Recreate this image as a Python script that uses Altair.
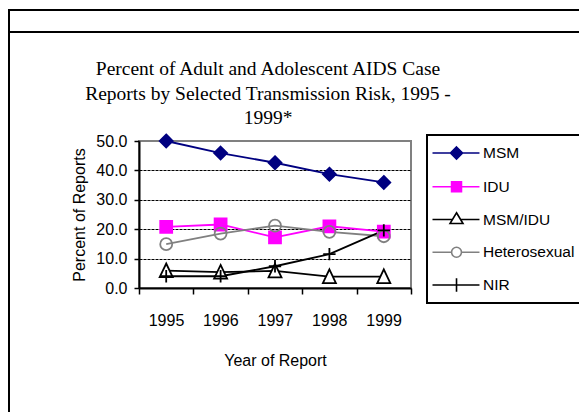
import altair as alt
import pandas as pd

years = [1995, 1996, 1997, 1998, 1999]
series_names = ["MSM", "IDU", "MSM/IDU", "Heterosexual", "NIR"]
msm = [50.0, 45.9, 42.6, 38.7, 35.9]
idu = [20.8, 21.6, 17.2, 21.0, 19.2]
msm_idu = [5.9, 5.4, 5.8, 3.9, 3.9]
hetero = [14.9, 18.5, 21.2, 19.1, 17.6]
nir = [4.0, 4.0, 7.4, 11.5, 19.6]
title_lines = ["Percent of Adult and Adolescent AIDS Case",
               "Reports by Selected Transmission Risk, 1995 -",
               "1999*"]

values = {"MSM": msm, "IDU": idu, "MSM/IDU": msm_idu, "Heterosexual": hetero, "NIR": nir}
rows = []
for s in series_names:
    for y, v in zip(years, values[s]):
        rows.append({"series": s, "year": y, "pct": v})
df = pd.DataFrame(rows)

stroke_colors = ["#000080", "#FF00FF", "#000000", "#808080", "#000000"]
fill_colors = ["#000080", "#FF00FF", "#FFFFFF", "transparent", "#000000"]
marker_paths = [
    "M0,-1L1,0L0,1L-1,0Z",
    "M-0.92,-0.92H0.92V0.92H-0.92Z",
    "M0,-1.1L1,1H-1Z",
    "M0.92,0A0.92,0.92 0 1,1 -0.92,0A0.92,0.92 0 1,1 0.92,0Z",
    "M0,-0.95V0.95M-0.95,0H0.95",
]
# legend symbols (unit = 9px)
legend_paths = [
    "M-1.39,0H3.83M1.28,-0.67L1.95,0L1.28,0.67L0.61,0Z",
    "M-1.39,0H3.83M0.73,-0.55H1.83V0.55H0.73Z",
    "M-1.39,0H0.83M1.73,0H3.83M1.28,-0.75L2.0,0.45H0.56Z",
    "M-1.39,0H0.73M1.83,0H3.83M1.83,0A0.55,0.55 0 1,1 0.73,0A0.55,0.55 0 1,1 1.83,0Z",
    "M-1.39,0H3.83M1.28,-0.75V0.75",
]

SANS = "Liberation Sans, Arial, sans-serif"

x_enc = alt.X(
    "year:Q",
    scale=alt.Scale(domain=[1994.5, 1999.5], nice=False, zero=False),
    axis=alt.Axis(
        values=[1994.5, 1995.5, 1996.5, 1997.5, 1998.5, 1999.5],
        labelExpr="datum.value < 1999 ? format(datum.value + 0.5, 'd') : ''",
        labelOffset=27,
        labelFlush=False,
        labelOverlap=False,
        labelPadding=18,
        tickSize=6,
        grid=False,
        title="Year of Report",
        titlePadding=24,
    ),
)
y_enc = alt.Y(
    "pct:Q",
    scale=alt.Scale(domain=[0, 50], nice=False),
    axis=alt.Axis(
        values=[0, 10, 20, 30, 40, 50],
        format=".1f",
        tickSize=5,
        labelPadding=7,
        grid=True,
        gridColor="#000000",
        gridDash=[3, 1],
        gridWidth=1,
        gridOpacity={"condition": {"test": "datum.value === 50 || datum.value === 0", "value": 0}, "value": 1},
        title="Percent of Reports",
        titlePadding=8,
    ),
)

stroke_scale = alt.Scale(domain=series_names, range=stroke_colors)
fill_scale = alt.Scale(domain=series_names, range=fill_colors)

lines = alt.Chart(df).mark_line(strokeWidth=1.8).encode(
    x=x_enc, y=y_enc,
    stroke=alt.Stroke("series:N", scale=stroke_scale, legend=None),
)

points = alt.Chart(df).mark_point(size=169, strokeWidth=1.8, opacity=1, filled=False).encode(
    x=x_enc, y=y_enc,
    stroke=alt.Stroke("series:N", scale=stroke_scale, legend=None),
    fill=alt.Fill("series:N", scale=fill_scale, legend=None),
    shape=alt.Shape("series:N", scale=alt.Scale(domain=series_names, range=marker_paths), legend=None),
)

legend_layer = alt.Chart(df).transform_filter("false").mark_point(strokeWidth=1.6, opacity=1).encode(
    x=x_enc, y=y_enc,
    stroke=alt.Stroke("series:N", scale=stroke_scale, title=None),
    fill=alt.Fill("series:N", scale=fill_scale, title=None),
    shape=alt.Shape("series:N", scale=alt.Scale(domain=series_names, range=legend_paths), title=None),
)

frame = alt.Chart(pd.DataFrame({"k": [0]}))
top_line = frame.mark_rule(color="#000000", strokeWidth=2).encode(
    x=alt.value(-131), x2=alt.value(460), y=alt.value(-131))
second_line = frame.mark_rule(color="#000000", strokeWidth=2).encode(
    x=alt.value(-131), x2=alt.value(460), y=alt.value(-109))
left_line = frame.mark_rule(color="#000000", strokeWidth=2).encode(
    x=alt.value(-130), y=alt.value(-131), y2=alt.value(290))
title_text = frame.mark_text(
    font="Liberation Serif", fontSize=19.5, color="#000000",
    align="center", baseline="alphabetic", lineHeight=24.5,
).encode(x=alt.value(129), y=alt.value(-66), text=alt.value(title_lines))

chart = alt.layer(
    lines, points, legend_layer, top_line, second_line, left_line, title_text
).resolve_scale(
    stroke="independent", fill="independent", shape="independent"
).properties(
    width=272,
    height=147,
    autosize=alt.AutoSizeParams(type="none"),
    padding={"left": 131, "top": 133, "right": 168, "bottom": 124},
).configure_view(
    stroke="#808080", strokeWidth=2
).configure_axis(
    domainColor="#000000", domainWidth=2,
    tickColor="#000000", tickWidth=1.5,
    labelFont=SANS, labelFontSize=16, labelColor="#000000",
    titleFont=SANS, titleFontSize=16, titleFontWeight="normal", titleColor="#000000",
).configure_legend(
    orient="none", legendX=288, legendY=-6,
    strokeColor="#000000", strokeWidth=2,
    padding=8, rowPadding=13.75,
    symbolSize=324, symbolStrokeWidth=1.6,
    labelFont=SANS, labelFontSize=15.5, labelColor="#000000", labelOffset=28,
    labelLimit=200,
)

chart.save("out.html", embed_options={"renderer": "svg", "actions": False})
